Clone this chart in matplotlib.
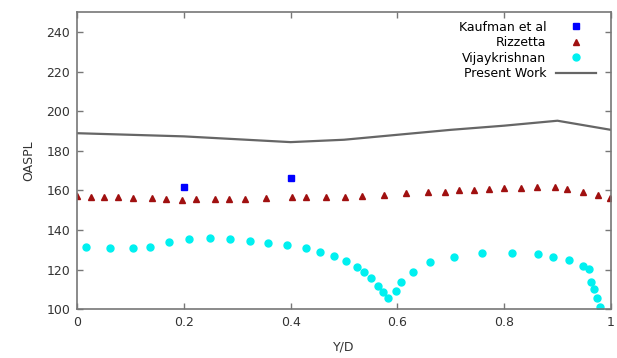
# OASPL versus Y/D: comparison of present work with reference data

import numpy as np
import matplotlib
matplotlib.use("Agg")
import matplotlib.pyplot as plt

# Kaufman et al
kauf_x = [0.2, 0.4]
kauf_y = [161.8, 166.2]

# Rizzetta
riz_x = [0.0, 0.026, 0.050, 0.077, 0.105, 0.140, 0.167, 0.197, 0.222, 0.258, 0.284,
         0.315, 0.354, 0.402, 0.429, 0.466, 0.501, 0.534, 0.575, 0.617, 0.657, 0.689,
         0.715, 0.744, 0.772, 0.800, 0.831, 0.861, 0.895, 0.917, 0.947, 0.976, 0.998]
riz_y = [157.3, 156.9, 156.9, 156.6, 156.3, 156.1, 155.6, 155.3, 155.6, 155.6, 155.6,
         155.6, 156.1, 156.6, 156.6, 156.9, 156.9, 157.4, 157.8, 158.6, 159.1, 159.1,
         160.0, 160.0, 160.6, 161.0, 161.0, 161.5, 161.8, 160.6, 159.0, 157.6, 156.1]

# Vijaykrishnan
vij_x = [0.016, 0.061, 0.104, 0.137, 0.173, 0.210, 0.249, 0.286, 0.324, 0.358, 0.394,
         0.429, 0.455, 0.481, 0.503, 0.525, 0.538, 0.550, 0.564, 0.574, 0.583, 0.598,
         0.606, 0.629, 0.662, 0.707, 0.759, 0.814, 0.864, 0.891, 0.922, 0.948, 0.959,
         0.963, 0.969, 0.974, 0.980]
vij_y = [131.7, 130.7, 130.7, 131.7, 134.0, 135.5, 136.1, 135.5, 134.7, 133.5, 132.7,
         130.7, 128.8, 126.8, 124.4, 121.6, 118.7, 115.8, 112.0, 108.6, 105.6, 109.4,
         114.0, 119.0, 123.9, 126.3, 128.3, 128.3, 128.0, 126.3, 124.9, 122.1, 120.2,
         114.0, 110.1, 105.6, 101.3]

# Present work
pw_x = [0.0, 0.2, 0.4, 0.5, 0.6, 0.7, 0.8, 0.9, 1.0]
pw_y = [188.9, 187.3, 184.4, 185.6, 188.1, 190.6, 192.7, 195.2, 190.6]

plt.rcParams['font.family'] = ['DejaVu Sans']

fig = plt.figure(figsize=(6.17, 3.58), dpi=100)
ax = fig.add_axes([0.125, 0.136, 0.865, 0.83])

ax.plot(kauf_x, kauf_y, 's', color='#0000ff', markersize=4.6, label='Kaufman et al')
ax.plot(riz_x, riz_y, '^', color='#a01010', markersize=4.5, label='Rizzetta')
ax.plot(vij_x, vij_y, 'o', color='#00f0f0', markersize=5, label='Vijaykrishnan')
ax.plot(pw_x, pw_y, '-', color='#666666', linewidth=1.6, label='Present Work')

ax.set_xlim(0, 1)
ax.set_ylim(100, 250)
ax.set_xticks(np.arange(0, 1.01, 0.2))
ax.set_xticklabels(['0', '0.2', '0.4', '0.6', '0.8', '1'])
ax.set_yticks(np.arange(100, 241, 20))
ax.tick_params(direction='in', top=True, right=True, length=4, width=1,
               color='#777777', labelsize=9, labelcolor='#333333', pad=5)
for s in ax.spines.values():
    s.set_color('#777777')
    s.set_linewidth(1.2)

ax.set_xlabel('Y/D', fontsize=9, color='#333333', labelpad=8)
ax.set_ylabel('OASPL', fontsize=9, color='#333333', labelpad=8)

ax.legend(loc='upper right', bbox_to_anchor=(1.0, 1.02), frameon=False,
          markerfirst=False, fontsize=9, handlelength=3.2, handletextpad=0.8,
          labelspacing=0.2, borderaxespad=0.75, alignment='right')

fig.savefig('out.png', dpi=100)
